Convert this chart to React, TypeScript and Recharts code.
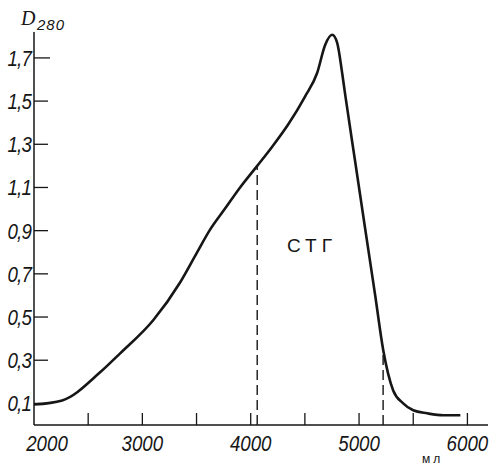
import { Line, LineChart, ReferenceLine, XAxis, YAxis } from 'recharts';

const INK = '#161616';
const FONT = "'Liberation Sans', Arial, sans-serif";

// elution volume, ml
const volume = [
  2000, 2260, 2610, 2795, 3100, 3348, 3500, 3625, 3760, 3902, 4060, 4200, 4350, 4500, 4613,
  4687, 4752, 4798, 4844, 4872, 4964, 5056, 5149, 5222, 5315, 5407, 5500, 5629, 5777, 5935,
];
// optical density at 280 nm
const d280 = [
  0.095, 0.114, 0.244, 0.332, 0.485, 0.66, 0.795, 0.905, 1.0, 1.1, 1.2, 1.29, 1.395, 1.52, 1.63,
  1.76, 1.807, 1.77, 1.63, 1.53, 1.22, 0.91, 0.6, 0.35, 0.16, 0.1, 0.068, 0.054, 0.045, 0.045,
];
// fraction cut-offs (dashed lines)
const cutVolume = [4060, 5222];
const cutHeight = [1.2, 0.35];

const xTicks = [2000, 2500, 3000, 3500, 4000, 4500, 5000, 5500, 6000];
const yTicks = [0.1, 0.3, 0.5, 0.7, 0.9, 1.1, 1.3, 1.5, 1.7];

const data = volume.map((v, i) => ({ v, d: d280[i] }));

function YTick(props: any) {
  const { x, y, payload } = props;
  const len = payload.value === 1.7 ? 16 : 14;
  return (
    <g>
      <line x1={x} y1={y} x2={x + len} y2={y} stroke={INK} strokeWidth={1.3} />
      <text
        transform={`translate(${x - 3},${y + 8}) scale(0.85,1)`}
        textAnchor="end"
        fill={INK}
        fontSize={22}
        fontStyle="italic"
        letterSpacing={-1}
        fontFamily={FONT}
      >
        {payload.value.toFixed(1).replace('.', ',')}
      </text>
    </g>
  );
}

function XTick(props: any) {
  const { x, y, payload } = props;
  const v = payload.value;
  return (
    <g>
      {v > 2000 && <line x1={x} y1={y} x2={x} y2={y - 12} stroke={INK} strokeWidth={1.3} />}
      {v % 1000 === 0 && (
        <text
          transform={`translate(${v === 2000 ? x + 13 : x},${y + 26}) scale(0.85,1)`}
          textAnchor="middle"
          fill={INK}
          fontSize={22}
          fontStyle="italic"
          fontFamily={FONT}
        >
          {v}
        </text>
      )}
    </g>
  );
}

export default function App() {
  return (
    <div style={{ position: 'absolute', left: 0, top: 0, width: 489, height: 465, background: '#fff' }}>
      <LineChart width={489} height={465} data={data} margin={{ top: 32, right: 1, bottom: 0, left: 0 }}>
        <XAxis
          dataKey="v"
          type="number"
          domain={[2000, 6190]}
          ticks={xTicks}
          interval={0}
          height={40}
          tickSize={0}
          tickMargin={0}
          tick={<XTick />}
          axisLine={{ stroke: INK, strokeWidth: 1.5 }}
          tickLine={false}
        />
        <YAxis
          type="number"
          domain={[0, 1.82]}
          ticks={yTicks}
          interval={0}
          width={34}
          tickSize={0}
          tickMargin={0}
          tick={<YTick />}
          axisLine={{ stroke: INK, strokeWidth: 1.5 }}
          tickLine={false}
        />
        {cutVolume.map((c, i) => (
          <ReferenceLine
            key={c}
            segment={[{ x: c, y: 0 }, { x: c, y: cutHeight[i] }]}
            stroke={INK}
            strokeWidth={1.4}
            strokeDasharray="10 5"
          />
        ))}
        <Line type="monotone" dataKey="d" stroke={INK} strokeWidth={2.6} dot={false} isAnimationActive={false} />
      </LineChart>
      <svg width={489} height={465} style={{ position: 'absolute', left: 0, top: 0, pointerEvents: 'none' }}>
        <text x={21} y={25} fontSize={20} fontStyle="italic" fontFamily="'Liberation Serif', serif" fill={INK}>D</text>
        <text x={37} y={30} fontSize={15} fontStyle="italic" fontFamily={FONT} letterSpacing={1} fill={INK}>280</text>
        <text x={287} y={252} fontSize={19} fontFamily={FONT} letterSpacing={5} fill={INK}>СТГ</text>
        <text x={422} y={463} fontSize={12} fontFamily={FONT} letterSpacing={3} fill={INK}>мл</text>
      </svg>
    </div>
  );
}
